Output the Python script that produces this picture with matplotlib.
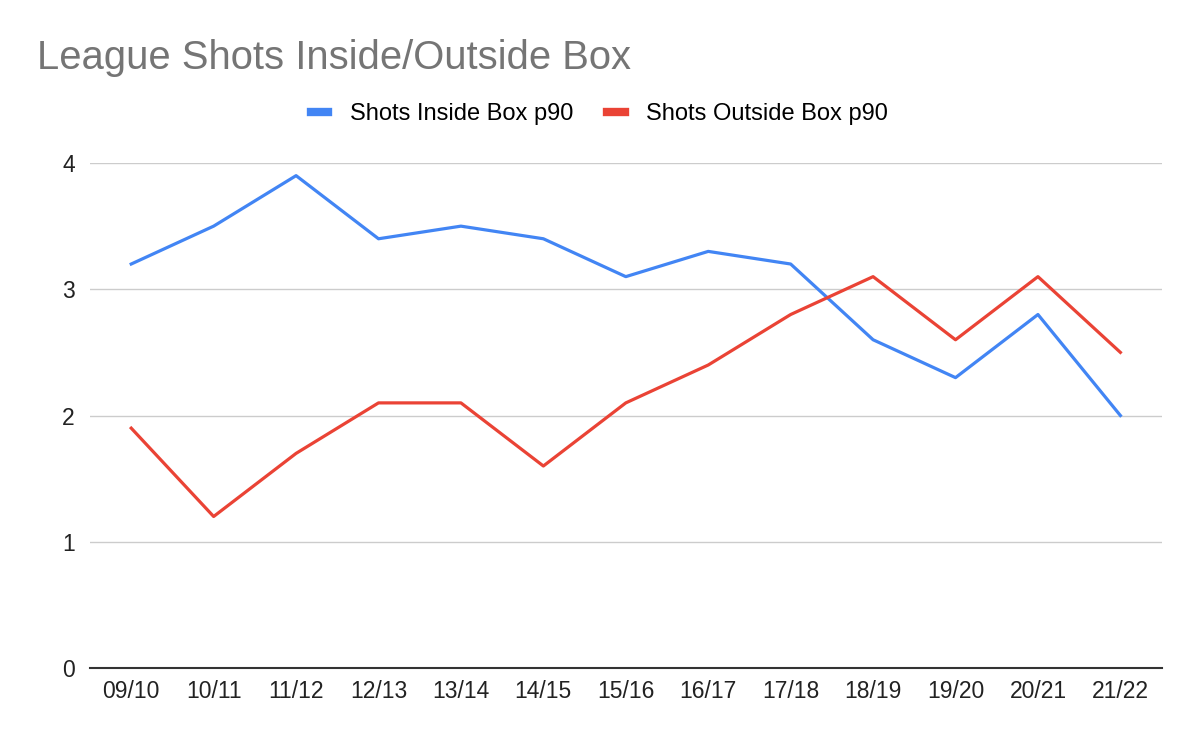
import matplotlib.pyplot as plt

seasons = ["09/10", "10/11", "11/12", "12/13", "13/14", "14/15", "15/16",
           "16/17", "17/18", "18/19", "19/20", "20/21", "21/22"]
inside_box = [3.2, 3.5, 3.9, 3.4, 3.5, 3.4, 3.1, 3.3, 3.2, 2.6, 2.3, 2.8, 2.0]
outside_box = [1.9, 1.2, 1.7, 2.1, 2.1, 1.6, 2.1, 2.4, 2.8, 3.1, 2.6, 3.1, 2.5]
y_ticks = [0, 1, 2, 3, 4]

plt.rcParams["font.family"] = ["Liberation Sans", "DejaVu Sans"]

fig = plt.figure(figsize=(12, 7.4), dpi=100)
ax = fig.add_axes([0.075, 0.0973, 0.893, 0.6824])

x = range(len(seasons))
ax.plot(x, inside_box, color="#4285F4", lw=2.3, label="Shots Inside Box p90",
        solid_joinstyle="round", zorder=3)
ax.plot(x, outside_box, color="#EA4335", lw=2.3, label="Shots Outside Box p90",
        solid_joinstyle="round", zorder=3)

ax.set_xlim(-0.5, len(seasons) - 0.5)
ax.set_ylim(0, 4)
ax.set_xticks(list(x))
ax.set_xticklabels(seasons)
ax.set_yticks(y_ticks)
ax.tick_params(length=0, labelsize=16.5, colors="#222222")
ax.tick_params(axis="x", pad=9)
ax.tick_params(axis="y", pad=11)

ax.grid(axis="y", color="#cccccc", lw=1)
ax.set_axisbelow(True)
for s in ["top", "right", "left"]:
    ax.spines[s].set_visible(False)
ax.spines["bottom"].set_color("#333333")
ax.spines["bottom"].set_linewidth(1.5)
ax.spines["bottom"].set_zorder(4)

fig.text(0.031, 0.9068, "League Shots Inside/Outside Box", fontsize=28.8,
         color="#757575", va="baseline", ha="left")

leg = fig.legend(loc="center", bbox_to_anchor=(0.4995, 0.8455), ncol=2, frameon=False,
                 fontsize=17, handlelength=0.75, handletextpad=0.9,
                 columnspacing=1.45, borderpad=0, borderaxespad=0)
for h in leg.legend_handles:
    h.set_linewidth(6)

fig.savefig("out.png", dpi=100)
